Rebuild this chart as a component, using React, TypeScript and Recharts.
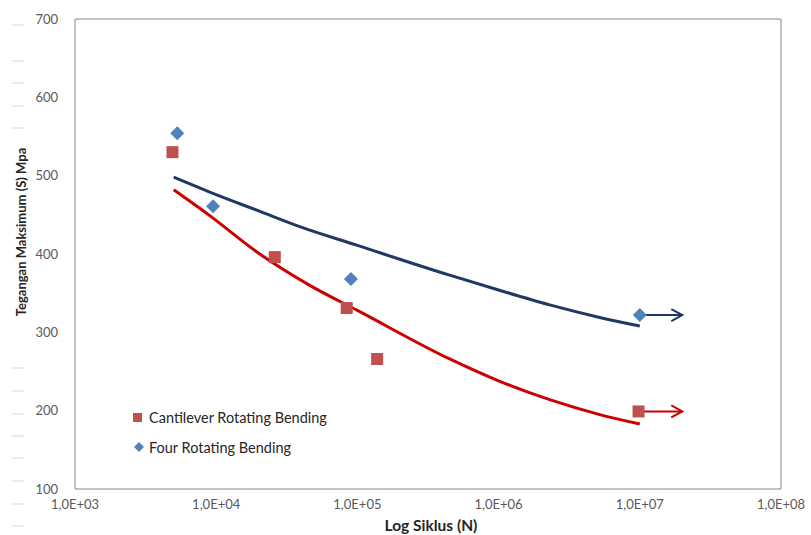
import * as React from 'react';
import {
  ComposedChart,
  Line,
  Scatter,
  XAxis,
  YAxis,
  ReferenceArea,
} from 'recharts';

// titik data hasil uji (siklus N, tegangan S dalam MPa)
const cantileverN = [4.9e3, 2.6e4, 8.4e4, 1.38e5, 9.8e6];
const cantileverS = [530, 396, 331, 266, 199];
const fourN = [5.3e3, 9.5e3, 9.0e4, 1.0e7];
const fourS = [554, 461, 368, 322];

// garis trend
const trendRedN = [5e3, 9e3, 2e4, 4.6e4, 1e5, 4.5e5, 1e6, 2.3e6, 5.2e6, 1e7];
const trendRedS = [482, 449, 401, 360, 328, 266, 238, 214, 195, 183];
const trendBlueN = [5e3, 9e3, 2e4, 3.9e4, 1e5, 4.5e5, 1e6, 2.3e6, 5.2e6, 1e7];
const trendBlueS = [498, 479, 455, 435, 411, 373, 354, 335, 319, 308];

// panah run-out
const arrowN = [1e7, 2e7];
const arrowRedS = [199, 199];
const arrowBlueS = [322, 322];

const xTicks = [1e3, 1e4, 1e5, 1e6, 1e7, 1e8];
const yTicks = [100, 200, 300, 400, 500, 600, 700];

const RED_TREND = '#CC0000';
const BLUE_TREND = '#1F3864';
const RED_MARK = '#C0504D';
const BLUE_MARK = '#4F81BD';
const FONT = 'Lato, "Open Sans", sans-serif';
const SIDE_DASHES = [25, 61, 83, 106, 128, 368, 391, 414, 436, 458, 481, 504, 526];

const toRows = (ns: number[], ss: number[]) => ns.map((n, i) => ({ n, s: ss[i] }));

const fmtX = (v: number) => '1,0E+' + String(Math.round(Math.log10(v))).padStart(2, '0');

function SquareShape(props: any) {
  const { cx, cy } = props;
  return <rect x={cx - 6} y={cy - 6} width={12} height={12} fill={RED_MARK} />;
}

function DiamondShape(props: any) {
  const { cx, cy } = props;
  const r = 7;
  return <polygon points={`${cx},${cy - r} ${cx + r},${cy} ${cx},${cy + r} ${cx - r},${cy}`} fill={BLUE_MARK} />;
}

function arrowHead(color: string) {
  return (props: any) => {
    const { cx, cy, index } = props;
    if (index !== 1) return <g key={`a-${index}`} />;
    return (
      <path
        key={`a-${index}`}
        d={`M${cx - 11},${cy - 6} L${cx},${cy} L${cx - 11},${cy + 6}`}
        fill="none"
        stroke={color}
        strokeWidth={2}
      />
    );
  };
}

export default function App() {
  const tick = { fill: '#595959', fontSize: 13, fontFamily: FONT };
  return (
    <div style={{ position: 'relative', width: 811, height: 535, background: '#fff' }}>
      <style>{'body{margin:0}'}</style>
      <svg width={811} height={535} style={{ position: 'absolute', left: 0, top: 0 }}>
        {SIDE_DASHES.map((y) => (
          <line key={y} x1={12} x2={24} y1={y} y2={y} stroke="#d9d9d9" strokeWidth={1} />
        ))}
      </svg>
      <div style={{ position: 'absolute', left: 0, top: 0 }}>
        <ComposedChart width={811} height={535} margin={{ top: 19, right: 30, left: 0, bottom: 0 }}>
          <XAxis
            dataKey="n"
            type="number"
            scale="log"
            domain={[1e3, 1e8]}
            ticks={xTicks}
            allowDataOverflow
            axisLine={false}
            tickLine={false}
            tickSize={0}
            tickMargin={11}
            height={46}
            tick={tick}
            tickFormatter={fmtX}
            interval={0}
            label={{
              content: () => (
                <text x={431} y={531} textAnchor="middle" fontFamily={FONT} fontWeight="bold" fontSize={15.5} fill="#262626">
                  Log Siklus (N)
                </text>
              ),
            }}
          />
          <YAxis
            dataKey="s"
            type="number"
            domain={[100, 700]}
            ticks={yTicks}
            allowDataOverflow
            axisLine={false}
            tickLine={false}
            tickSize={0}
            tickMargin={17}
            width={75}
            tick={tick}
            interval={0}
            label={{
              content: () => (
                <text
                  x={21}
                  y={232}
                  transform="rotate(-90 21 232)"
                  textAnchor="middle"
                  dominantBaseline="central"
                  fontFamily={FONT}
                  fontWeight="bold"
                  fontSize={13}
                  fill="#262626"
                >
                  Tegangan Maksimum (S) Mpa
                </text>
              ),
            }}
          />
          <ReferenceArea x1={1e3} x2={1e8} y1={100} y2={700} fill="none" stroke="#868686" strokeWidth={1} />
          <Line
            data={toRows(trendBlueN, trendBlueS)}
            dataKey="s"
            type="monotone"
            stroke={BLUE_TREND}
            strokeWidth={3}
            dot={false}
            isAnimationActive={false}
          />
          <Line
            data={toRows(trendRedN, trendRedS)}
            dataKey="s"
            type="monotone"
            stroke={RED_TREND}
            strokeWidth={3}
            dot={false}
            isAnimationActive={false}
          />
          <Line
            data={toRows(arrowN, arrowBlueS)}
            dataKey="s"
            type="linear"
            stroke={BLUE_TREND}
            strokeWidth={2}
            dot={arrowHead(BLUE_TREND)}
            isAnimationActive={false}
          />
          <Line
            data={toRows(arrowN, arrowRedS)}
            dataKey="s"
            type="linear"
            stroke={RED_TREND}
            strokeWidth={2}
            dot={arrowHead(RED_TREND)}
            isAnimationActive={false}
          />
          <Scatter data={toRows(cantileverN, cantileverS)} shape={<SquareShape />} isAnimationActive={false} />
          <Scatter data={toRows(fourN, fourS)} shape={<DiamondShape />} isAnimationActive={false} />
        </ComposedChart>
      </div>
      <div
        style={{
          position: 'absolute',
          left: 133,
          top: 407,
          fontFamily: FONT,
          fontSize: 14.5,
          color: '#262626',
        }}
      >
        <div style={{ display: 'flex', alignItems: 'center', height: 20 }}>
          <span style={{ width: 9, height: 9, background: RED_MARK, display: 'inline-block', marginRight: 7 }} />
          Cantilever Rotating Bending
        </div>
        <div style={{ display: 'flex', alignItems: 'center', height: 20, marginTop: 10 }}>
          <svg width={12} height={12} style={{ marginRight: 4 }}>
            <polygon points="6,1 11,6 6,11 1,6" fill={BLUE_MARK} />
          </svg>
          Four Rotating Bending
        </div>
      </div>
    </div>
  );
}
